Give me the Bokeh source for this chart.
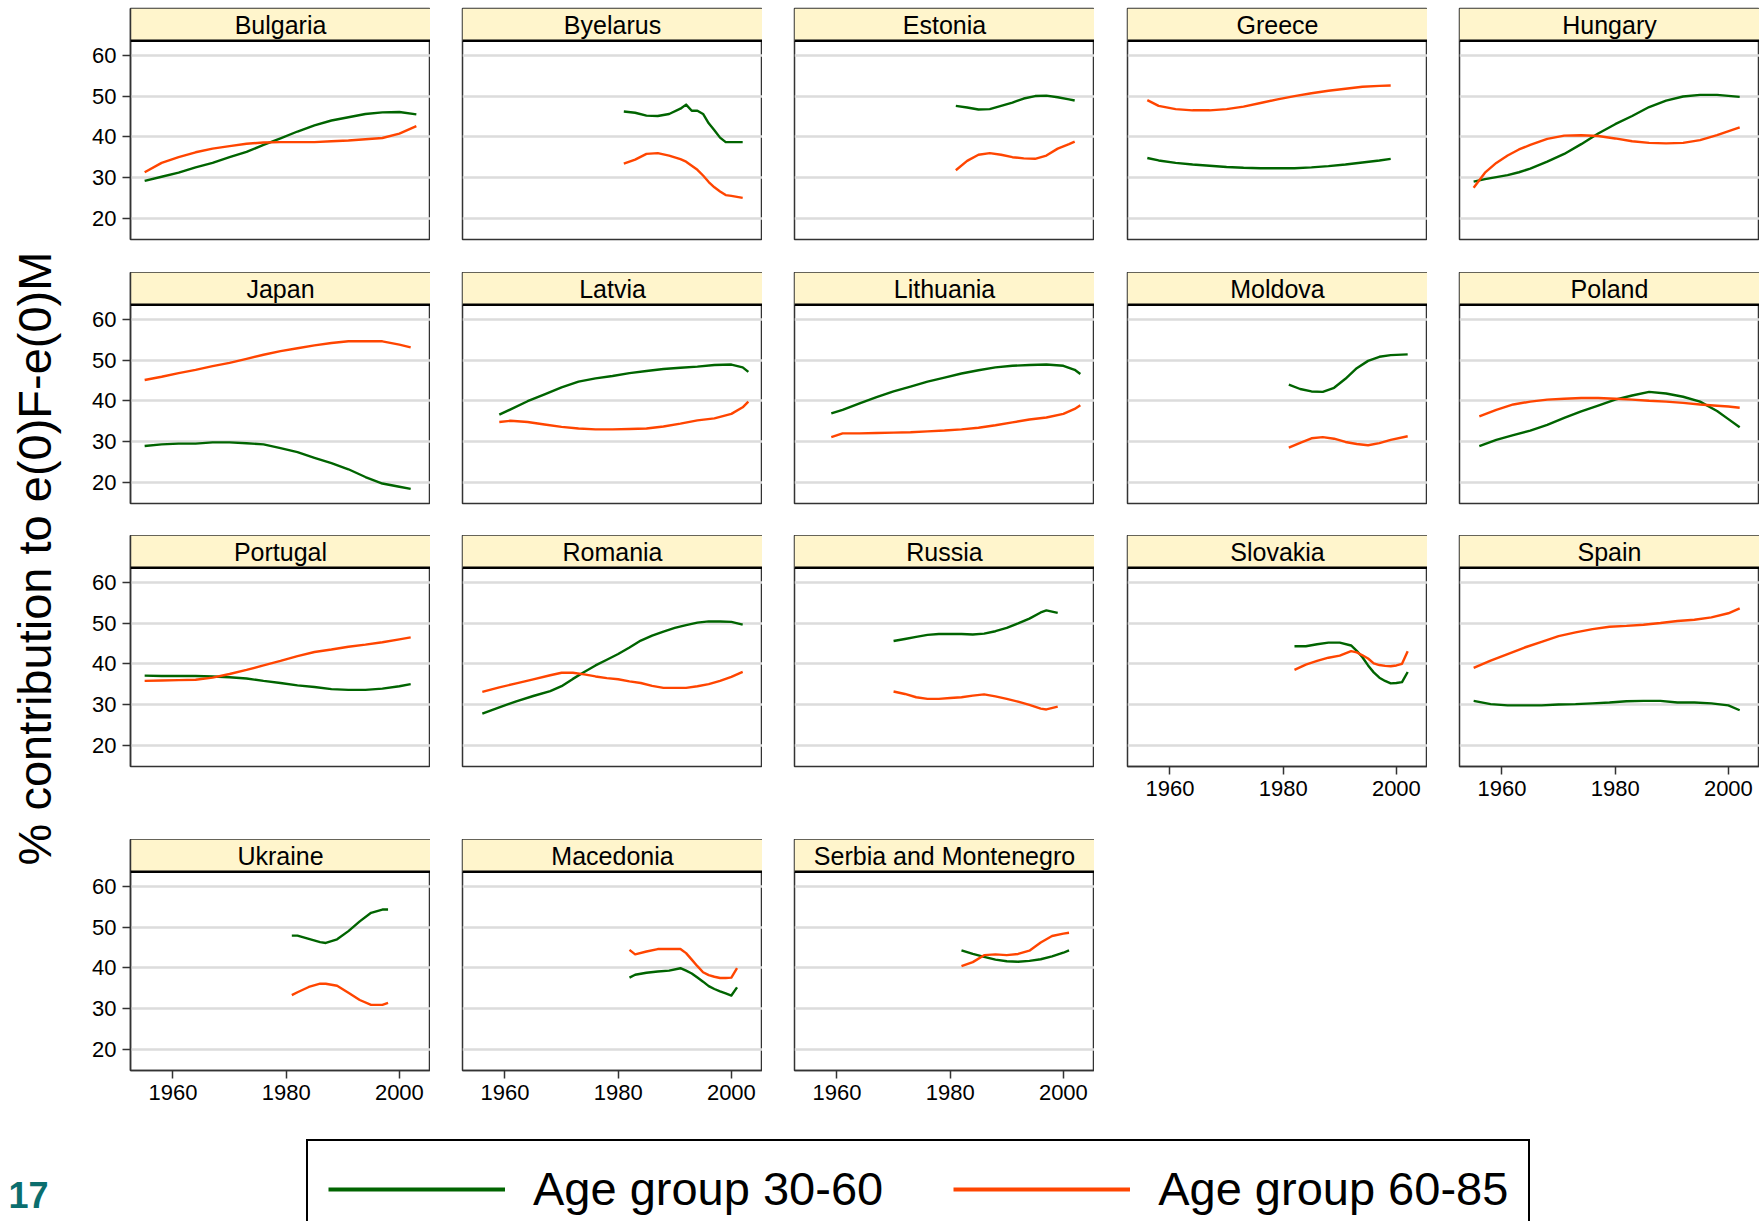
import math
import numpy as np
from bokeh.plotting import figure
from bokeh.layouts import row, column
from bokeh.models import (Range1d, FixedTicker, BoxAnnotation, Span, Label,
                          Legend, LegendItem, ColumnDataSource)
from bokeh.embed import file_html
from bokeh.resources import INLINE

# ---------------- data ----------------
SERIES_LABELS = ["Age group 30-60", "Age group 60-85"]
Y_TICKS = [20, 30, 40, 50, 60]
X_TICKS = [1960, 1980, 2000]
Y_TITLE = "% contribution to e(0)F-e(0)M"
PAGE_NUMBER = "17"

BULGARIA_YEARS = [1955, 1958, 1961, 1964, 1967, 1970, 1973, 1976, 1979, 1982, 1985, 1988, 1991, 1994, 1997, 2000, 2003]
BULGARIA_30_60 = [29.2, 30.2, 31.2, 32.5, 33.6, 35.0, 36.3, 38.0, 39.6, 41.3, 42.8, 44.0, 44.8, 45.6, 46.0, 46.1, 45.5]
BULGARIA_60_85 = [31.3, 33.6, 35.0, 36.2, 37.1, 37.7, 38.3, 38.6, 38.7, 38.7, 38.7, 38.9, 39.1, 39.4, 39.7, 40.8, 42.6]

BYELARUS_YEARS = [1981, 1983, 1985, 1987, 1989, 1991, 1992, 1993, 1994, 1995, 1996, 1997, 1998, 1999, 2000, 2002]
BYELARUS_30_60 = [46.2, 45.9, 45.2, 45.1, 45.6, 46.9, 47.9, 46.4, 46.4, 45.6, 43.3, 41.6, 39.8, 38.7, 38.7, 38.7]
BYELARUS_60_85 = [33.4, 34.4, 35.8, 36.0, 35.4, 34.5, 33.9, 32.9, 31.9, 30.5, 28.9, 27.6, 26.6, 25.7, 25.5, 25.0]

ESTONIA_YEARS = [1981, 1983, 1985, 1987, 1989, 1991, 1993, 1995, 1997, 1999, 2001, 2002]
ESTONIA_30_60 = [47.6, 47.2, 46.7, 46.8, 47.6, 48.4, 49.4, 50.0, 50.1, 49.7, 49.2, 48.9]
ESTONIA_60_85 = [31.8, 34.1, 35.6, 36.0, 35.6, 35.0, 34.7, 34.6, 35.4, 37.1, 38.2, 38.8]

GREECE_YEARS = [1956, 1958, 1961, 1964, 1967, 1970, 1973, 1976, 1979, 1982, 1985, 1988, 1991, 1994, 1997, 1999]
GREECE_30_60 = [34.8, 34.2, 33.6, 33.2, 32.9, 32.6, 32.4, 32.3, 32.3, 32.3, 32.5, 32.8, 33.2, 33.7, 34.2, 34.6]
GREECE_60_85 = [49.0, 47.6, 46.8, 46.5, 46.5, 46.8, 47.4, 48.3, 49.2, 50.0, 50.7, 51.3, 51.8, 52.3, 52.5, 52.6]

HUNGARY_YEARS = [1955, 1957, 1959, 1961, 1963, 1965, 1968, 1971, 1974, 1977, 1980, 1983, 1986, 1989, 1992, 1995, 1998, 2002]
HUNGARY_30_60 = [29.0, 29.6, 30.1, 30.6, 31.3, 32.2, 33.9, 35.8, 38.2, 40.8, 43.1, 45.1, 47.3, 48.9, 49.9, 50.3, 50.3, 49.8]
HUNGARY_60_85 = [27.5, 31.2, 33.6, 35.4, 36.9, 38.0, 39.5, 40.3, 40.4, 40.2, 39.6, 38.9, 38.5, 38.4, 38.5, 39.2, 40.4, 42.3]

JAPAN_YEARS = [1955, 1958, 1961, 1964, 1967, 1970, 1973, 1976, 1979, 1982, 1985, 1988, 1991, 1994, 1997, 2000, 2002]
JAPAN_30_60 = [28.9, 29.3, 29.5, 29.5, 29.8, 29.8, 29.6, 29.3, 28.4, 27.4, 26.0, 24.7, 23.2, 21.3, 19.7, 18.9, 18.4]
JAPAN_60_85 = [45.1, 45.9, 46.8, 47.6, 48.5, 49.3, 50.3, 51.3, 52.2, 52.9, 53.6, 54.2, 54.6, 54.6, 54.6, 53.8, 53.1]

LATVIA_YEARS = [1959, 1961, 1964, 1967, 1970, 1973, 1976, 1979, 1982, 1985, 1988, 1991, 1994, 1997, 2000, 2002, 2003]
LATVIA_30_60 = [36.6, 37.9, 39.9, 41.6, 43.3, 44.7, 45.5, 46.1, 46.8, 47.3, 47.8, 48.1, 48.4, 48.8, 48.9, 48.2, 47.1]
LATVIA_60_85 = [34.8, 35.1, 34.8, 34.2, 33.6, 33.2, 33.0, 33.0, 33.1, 33.2, 33.7, 34.4, 35.2, 35.7, 36.8, 38.4, 39.8]

LITHUANIA_YEARS = [1959, 1961, 1964, 1967, 1970, 1973, 1976, 1979, 1982, 1985, 1988, 1991, 1994, 1997, 2000, 2002, 2003]
LITHUANIA_30_60 = [36.9, 37.8, 39.4, 40.9, 42.3, 43.5, 44.7, 45.7, 46.7, 47.5, 48.2, 48.6, 48.8, 48.9, 48.6, 47.6, 46.6]
LITHUANIA_60_85 = [31.1, 32.0, 32.0, 32.1, 32.2, 32.3, 32.5, 32.7, 33.0, 33.4, 34.0, 34.7, 35.4, 35.9, 36.8, 38.0, 38.9]

MOLDOVA_YEARS = [1981, 1983, 1985, 1987, 1989, 1991, 1993, 1995, 1997, 1999, 2002]
MOLDOVA_30_60 = [44.0, 42.9, 42.3, 42.2, 43.2, 45.4, 48.0, 49.8, 50.8, 51.2, 51.4]
MOLDOVA_60_85 = [28.5, 29.7, 30.8, 31.1, 30.7, 29.9, 29.4, 29.1, 29.6, 30.4, 31.3]

POLAND_YEARS = [1956, 1959, 1962, 1965, 1968, 1971, 1974, 1977, 1980, 1983, 1986, 1989, 1992, 1995, 1998, 2000, 2002]
POLAND_30_60 = [28.9, 30.4, 31.6, 32.7, 34.1, 35.8, 37.4, 38.8, 40.3, 41.3, 42.2, 41.8, 41.0, 39.8, 37.5, 35.5, 33.5]
POLAND_60_85 = [36.2, 37.8, 39.1, 39.8, 40.3, 40.5, 40.7, 40.7, 40.5, 40.3, 40.0, 39.8, 39.5, 39.1, 38.8, 38.6, 38.3]

PORTUGAL_YEARS = [1955, 1958, 1961, 1964, 1967, 1970, 1973, 1976, 1979, 1982, 1985, 1988, 1991, 1994, 1997, 2000, 2002]
PORTUGAL_30_60 = [37.1, 37.0, 37.0, 37.0, 36.9, 36.7, 36.4, 35.8, 35.3, 34.7, 34.3, 33.8, 33.6, 33.6, 33.9, 34.5, 35.0]
PORTUGAL_60_85 = [35.8, 35.9, 36.0, 36.1, 36.6, 37.5, 38.5, 39.6, 40.7, 41.9, 42.9, 43.5, 44.2, 44.7, 45.3, 46.0, 46.5]

ROMANIA_YEARS = [1956, 1959, 1962, 1965, 1968, 1970, 1972, 1974, 1976, 1978, 1980, 1982, 1984, 1986, 1988, 1990, 1992, 1994, 1996, 1998, 2000, 2002]
ROMANIA_30_60 = [27.8, 29.3, 30.8, 32.1, 33.3, 34.5, 36.3, 38.0, 39.6, 41.0, 42.4, 44.0, 45.7, 46.9, 47.9, 48.8, 49.5, 50.1, 50.4, 50.4, 50.3, 49.6]
ROMANIA_60_85 = [33.1, 34.2, 35.2, 36.2, 37.2, 37.8, 37.8, 37.4, 36.9, 36.5, 36.2, 35.7, 35.3, 34.6, 34.1, 34.1, 34.1, 34.5, 35.0, 35.8, 36.8, 38.0]

RUSSIA_YEARS = [1970, 1972, 1974, 1976, 1978, 1980, 1982, 1984, 1986, 1988, 1990, 1992, 1994, 1996, 1997, 1999]
RUSSIA_30_60 = [45.6, 46.1, 46.6, 47.1, 47.3, 47.3, 47.3, 47.2, 47.4, 48.0, 48.8, 49.9, 51.1, 52.6, 53.1, 52.5]
RUSSIA_60_85 = [33.2, 32.6, 31.8, 31.4, 31.4, 31.6, 31.8, 32.2, 32.5, 32.0, 31.4, 30.7, 29.9, 29.0, 28.8, 29.5]

SLOVAKIA_YEARS = [1982, 1984, 1986, 1988, 1990, 1992, 1993, 1994, 1995, 1996, 1997, 1998, 1999, 2000, 2001, 2002]
SLOVAKIA_30_60 = [44.3, 44.3, 44.8, 45.2, 45.2, 44.5, 43.2, 41.6, 39.6, 37.9, 36.6, 35.8, 35.2, 35.3, 35.5, 38.0]
SLOVAKIA_60_85 = [38.5, 39.8, 40.7, 41.5, 42.0, 43.1, 42.8, 42.1, 41.3, 40.1, 39.7, 39.5, 39.4, 39.6, 40.0, 43.1]

SPAIN_YEARS = [1955, 1958, 1961, 1964, 1967, 1970, 1973, 1976, 1979, 1982, 1985, 1988, 1991, 1994, 1997, 2000, 2002]
SPAIN_30_60 = [30.9, 30.1, 29.8, 29.8, 29.8, 30.0, 30.1, 30.3, 30.5, 30.8, 30.9, 30.9, 30.5, 30.5, 30.3, 29.8, 28.6]
SPAIN_60_85 = [39.0, 40.8, 42.4, 44.0, 45.4, 46.8, 47.7, 48.5, 49.1, 49.3, 49.6, 50.0, 50.5, 50.8, 51.4, 52.4, 53.6]

UKRAINE_YEARS = [1981, 1982, 1984, 1986, 1987, 1989, 1991, 1993, 1995, 1997, 1998]
UKRAINE_30_60 = [47.9, 47.9, 47.1, 46.3, 46.1, 47.0, 49.0, 51.4, 53.5, 54.3, 54.3]
UKRAINE_60_85 = [33.3, 34.0, 35.3, 36.1, 36.1, 35.6, 33.9, 32.1, 30.9, 30.9, 31.4]

MACEDONIA_YEARS = [1982, 1983, 1985, 1987, 1989, 1991, 1992, 1993, 1994, 1995, 1996, 1997, 1998, 1999, 2000, 2001]
MACEDONIA_30_60 = [37.6, 38.3, 38.8, 39.1, 39.3, 39.9, 39.3, 38.6, 37.6, 36.6, 35.5, 34.8, 34.2, 33.7, 33.2, 35.2]
MACEDONIA_60_85 = [44.4, 43.3, 44.0, 44.6, 44.6, 44.6, 43.6, 42.0, 40.4, 38.9, 38.2, 37.8, 37.5, 37.5, 37.6, 39.9]

SERBIA_YEARS = [1982, 1984, 1986, 1988, 1990, 1992, 1994, 1996, 1998, 2000, 2001]
SERBIA_30_60 = [44.3, 43.4, 42.7, 42.0, 41.6, 41.5, 41.7, 42.1, 42.8, 43.7, 44.3]
SERBIA_60_85 = [40.4, 41.4, 43.1, 43.3, 43.1, 43.4, 44.2, 46.2, 47.8, 48.4, 48.6]

PANEL_ROWS = [
    [("Bulgaria", BULGARIA_YEARS, BULGARIA_30_60, BULGARIA_60_85),
     ("Byelarus", BYELARUS_YEARS, BYELARUS_30_60, BYELARUS_60_85),
     ("Estonia", ESTONIA_YEARS, ESTONIA_30_60, ESTONIA_60_85),
     ("Greece", GREECE_YEARS, GREECE_30_60, GREECE_60_85),
     ("Hungary", HUNGARY_YEARS, HUNGARY_30_60, HUNGARY_60_85)],
    [("Japan", JAPAN_YEARS, JAPAN_30_60, JAPAN_60_85),
     ("Latvia", LATVIA_YEARS, LATVIA_30_60, LATVIA_60_85),
     ("Lithuania", LITHUANIA_YEARS, LITHUANIA_30_60, LITHUANIA_60_85),
     ("Moldova", MOLDOVA_YEARS, MOLDOVA_30_60, MOLDOVA_60_85),
     ("Poland", POLAND_YEARS, POLAND_30_60, POLAND_60_85)],
    [("Portugal", PORTUGAL_YEARS, PORTUGAL_30_60, PORTUGAL_60_85),
     ("Romania", ROMANIA_YEARS, ROMANIA_30_60, ROMANIA_60_85),
     ("Russia", RUSSIA_YEARS, RUSSIA_30_60, RUSSIA_60_85),
     ("Slovakia", SLOVAKIA_YEARS, SLOVAKIA_30_60, SLOVAKIA_60_85),
     ("Spain", SPAIN_YEARS, SPAIN_30_60, SPAIN_60_85)],
    [("Ukraine", UKRAINE_YEARS, UKRAINE_30_60, UKRAINE_60_85),
     ("Macedonia", MACEDONIA_YEARS, MACEDONIA_30_60, MACEDONIA_60_85),
     ("Serbia and Montenegro", SERBIA_YEARS, SERBIA_30_60, SERBIA_60_85)],
]

# ---------------- style / layout ----------------
FONT = "Liberation Sans"
GREEN = "#006400"
ORANGE = "#ff4500"
HEADER_FILL = "#fff5cc"
FRAME_COLOR = "#333333"
GRID_COLOR = "#dcdcdc"

FRAME_W, FRAME_H = 300, 231
X0, X1 = 1952.5, 2005.5
Y0 = 14.8
PX_PER_UNIT = 4.075
Y1 = Y0 + FRAME_H / PX_PER_UNIT
HEADER_Y = 63.6

LEFT_BORDERS = [52, 32, 32, 33, 32]
TOP_BORDERS = [8, 0, 0, 0]
BOTTOM_BORDERS = [33, 32, 73, 50]
LABEL_W = 78


def make_panel(name, years, s1, s2, ci, ri, show_y, show_x):
    p = figure(frame_width=FRAME_W, frame_height=FRAME_H,
               x_range=Range1d(X0, X1), y_range=Range1d(Y0, Y1),
               output_backend="svg", toolbar_location=None,
               min_border_left=LEFT_BORDERS[ci], min_border_right=0,
               min_border_top=TOP_BORDERS[ri], min_border_bottom=BOTTOM_BORDERS[ri],
               background_fill_color="white", border_fill_color="white")
    p.title.visible = False
    p.outline_line_color = FRAME_COLOR
    p.outline_line_width = 1.5
    p.xgrid.visible = False
    p.ygrid.ticker = FixedTicker(ticks=Y_TICKS)
    p.ygrid.grid_line_color = GRID_COLOR
    p.ygrid.grid_line_width = 2.5
    for ax, show, ticks in ((p.xaxis[0], show_x, X_TICKS), (p.yaxis[0], show_y, Y_TICKS)):
        ax.ticker = FixedTicker(ticks=ticks, minor_ticks=[])
        ax.visible = show
        ax.major_tick_in = 0
        ax.major_tick_out = 8
        ax.minor_tick_in = 0
        ax.minor_tick_out = 0
        ax.axis_line_color = FRAME_COLOR
        ax.axis_line_width = 1.5
        ax.major_tick_line_color = FRAME_COLOR
        ax.major_tick_line_width = 1.5
        ax.major_label_text_font = FONT
        ax.major_label_text_font_size = "22px"
        ax.major_label_text_color = "black"
        ax.major_label_standoff = 6
    p.add_layout(BoxAnnotation(bottom=HEADER_Y, fill_color=HEADER_FILL, fill_alpha=1.0,
                               line_color=None, level="underlay"))
    p.add_layout(Span(location=HEADER_Y, dimension="width", line_color="black", line_width=2.5))
    p.add_layout(Label(x=(X0 + X1) / 2, y=(HEADER_Y + Y1) / 2, text=name,
                       text_align="center", text_baseline="middle",
                       text_font=FONT, text_font_size="25px", text_color="black"))
    src = ColumnDataSource(dict(year=years, a=s1, b=s2))
    p.line("year", "a", source=src, line_color=GREEN, line_width=2.4, line_join="round")
    p.line("year", "b", source=src, line_color=ORANGE, line_width=2.4, line_join="round")
    return p


n_rows = len(PANEL_ROWS)
rows = []
for ri, prow in enumerate(PANEL_ROWS):
    figs = []
    for ci, (name, yrs, s1, s2) in enumerate(prow):
        is_bottom = ri == n_rows - 1 or (ri + 1 < n_rows and ci >= len(PANEL_ROWS[ri + 1]))
        figs.append(make_panel(name, yrs, s1, s2, ci, ri, show_y=(ci == 0), show_x=is_bottom))
    rows.append(row(*figs))
grid = column(*rows)

grid_h = sum(FRAME_H + b + t for b, t in zip(BOTTOM_BORDERS, TOP_BORDERS))

lab = figure(width=LABEL_W, height=grid_h, x_range=Range1d(0, LABEL_W), y_range=Range1d(0, grid_h),
             min_border=0, toolbar_location=None, output_backend="svg",
             x_axis_location=None, y_axis_location=None, outline_line_color=None)
lab.title.visible = False
lab.grid.visible = False
lab.add_layout(Label(x=34, y=grid_h - 558, text=Y_TITLE, angle=math.pi / 2,
                     text_align="center", text_baseline="middle",
                     text_font=FONT, text_font_size="47px", text_color="black"))

LEG_W, LEG_H = 1759, 101
leg = figure(width=LEG_W, height=LEG_H, x_range=Range1d(0, LEG_W), y_range=Range1d(0, LEG_H),
             min_border=0, toolbar_location=None, output_backend="svg",
             x_axis_location=None, y_axis_location=None, outline_line_color=None)
leg.title.visible = False
leg.grid.visible = False
proxy = ColumnDataSource(dict(x=np.array([np.nan]), y=np.array([np.nan])))
r1 = leg.line("x", "y", source=proxy, line_color=GREEN, line_width=4)
r2 = leg.line("x", "y", source=proxy, line_color=ORANGE, line_width=4)
legend = Legend(items=[LegendItem(label=SERIES_LABELS[0], renderers=[r1]),
                       LegendItem(label=SERIES_LABELS[1], renderers=[r2])],
                orientation="horizontal", location=(306, -17), margin=0,
                glyph_width=177, glyph_height=30, label_standoff=28, spacing=70,
                padding=20, border_line_color="black", border_line_width=2,
                border_line_alpha=1.0,
                label_text_font=FONT, label_text_font_size="47px",
                label_text_color="black",
                background_fill_color="white", background_fill_alpha=1.0)
leg.add_layout(legend, "center")
leg.add_layout(Label(x=8, y=14, text=PAGE_NUMBER, text_align="left", text_baseline="bottom",
                     text_font=FONT, text_font_size="36px", text_font_style="bold",
                     text_color="#0b6e6e"))

layout = column(row(lab, grid), leg)

open("out.html", "w").write(file_html(layout, INLINE))
